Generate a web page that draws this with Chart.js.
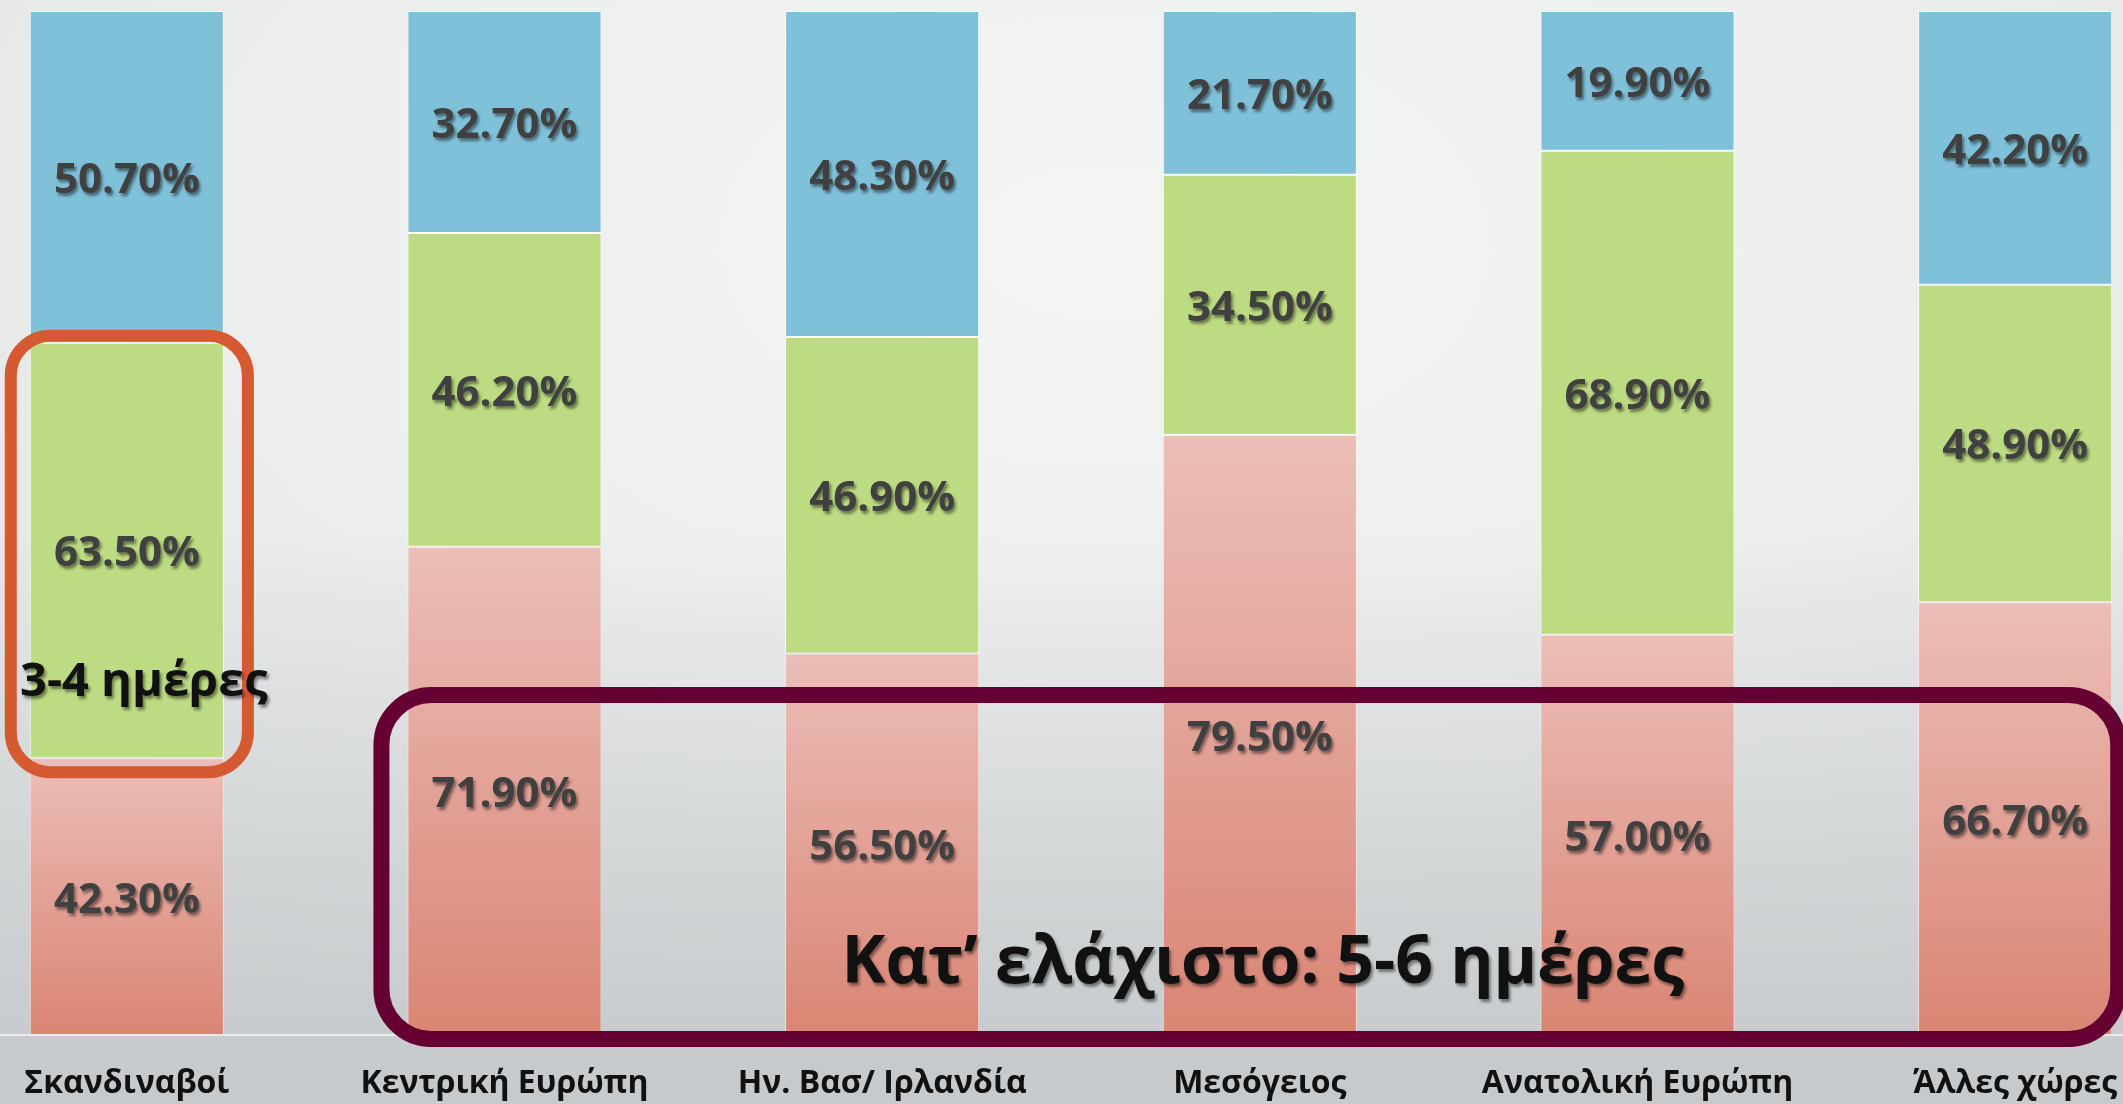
<!DOCTYPE html>
<html>
<head>
<meta charset="utf-8">
<script src="https://cdn.jsdelivr.net/npm/chart.js@4"></script>
<style>
  html, body { margin: 0; padding: 0; width: 2123px; height: 1104px; overflow: hidden; }
  body {
    position: relative;
    background:
      linear-gradient(180deg, rgba(198,202,204,0) 48%, rgba(198,202,204,1) 97%),
      radial-gradient(ellipse 75% 85% at 52% 22%, #f3f4f4 0%, #eeefef 45%, #e1e3e3 100%);
  }
  #wrap { position: absolute; left: -62px; top: 0; width: 2266px; height: 1104px; }
</style>
</head>
<body>
<div id="wrap"><canvas id="chart"></canvas></div>
<script>
// regions
const categories = ["Σκανδιναβοί", "Κεντρική Ευρώπη", "Ην. Βασ/ Ιρλανδία", "Μεσόγειος", "Ανατολική Ευρώπη", "Άλλες χώρες"]
// values as printed on the bars (%)
const minFiveSix = [42.3, 71.9, 56.5, 79.5, 57.0, 66.7]
const threeFour = [63.5, 46.2, 46.9, 34.5, 68.9, 48.9]
const oneTwo = [50.7, 32.7, 48.3, 21.7, 19.9, 42.2]
const seriesNames = ["5-6 ημέρες", "3-4 ημέρες", "1-2 ημέρες"]

const series = [minFiveSix, threeFour, oneTwo]
// 100% stacked: each bar is scaled to its own total
const totals = categories.map((c, i) => series.reduce((s, arr) => s + arr[i], 0))
const share = arr => arr.map((v, i) => v / totals[i] * 100)

const FONT = "'Open Sans', 'Noto Sans', sans-serif"

function redFill(context) {
    const chart = context.chart
    if (!chart.chartArea) return "#e2a096"
    const i = context.dataIndex
    const y = chart.scales.y
    const top = y.getPixelForValue(share(minFiveSix)[i])
    const bottom = y.getPixelForValue(0)
    const g = chart.ctx.createLinearGradient(0, top, 0, bottom)
    g.addColorStop(0, "#ebbeb8")
    g.addColorStop(1, "#da8574")
    return g
}

function roundBox(ctx, l, t, r, b, rad) {
    ctx.beginPath()
    ctx.roundRect(l, t, r - l, b - t, rad)
    ctx.stroke()
}

const overlay = {
    id: "overlay",
    afterDatasetsDraw(chart) {
        const ctx = chart.ctx
        const x = chart.scales.x
        const y = chart.scales.y
        ctx.save()

        // orange frame round the Scandinavian 3-4 days segment
        const g = chart.getDatasetMeta(1).data[0]
        ctx.lineWidth = 12
        ctx.strokeStyle = "#d65a31"
        roundBox(ctx, g.x - g.width / 2 - 19, g.y - 7, g.x + g.width / 2 + 24, g.base + 14, 40)

        // maroon frame round the lower part of the other bars
        const b2 = chart.getDatasetMeta(0).data[1]
        const b6 = chart.getDatasetMeta(0).data[5]
        ctx.lineWidth = 16
        ctx.strokeStyle = "#660033"
        roundBox(ctx, b2.x - b2.width / 2 - 26, y.getPixelForValue(33.2), b6.x + b6.width / 2 + 6, chart.chartArea.bottom + 4, 50)

        // value labels
        ctx.textAlign = "center"
        ctx.textBaseline = "middle"
        ctx.font = "bold 42px " + FONT
        ctx.shadowColor = "rgba(0,0,0,0.45)"
        ctx.shadowOffsetX = 2
        ctx.shadowOffsetY = 3
        ctx.shadowBlur = 3
        ctx.fillStyle = "#404040"
        series.forEach((arr, d) => {
            chart.getDatasetMeta(d).data.forEach((el, i) => {
                const p = el.getCenterPoint()
                ctx.fillText(arr[i].toFixed(2) + "%", p.x, p.y + 4)
            })
        })

        // annotation texts
        ctx.fillStyle = "#111111"
        ctx.font = "bold 47px " + FONT
        ctx.fillText("3-4 ημέρες", x.getPixelForValue(0) + 17, y.getPixelForValue(34.4))
        ctx.font = "bold 66px " + FONT
        ctx.fillText("Κατ’ ελάχιστο: 5-6 ημέρες", x.getPixelForValue(3) + 3, y.getPixelForValue(6.9))
        ctx.restore()
    }
}

const chartCtx = document.getElementById("chart")
const chart = new Chart(chartCtx, {
    type: "bar",
    data: {
        labels: categories,
        datasets: [
            { label: seriesNames[0], data: share(minFiveSix), backgroundColor: redFill, borderColor: "rgba(255,235,232,0.7)", borderWidth: 1, borderSkipped: false },
            { label: seriesNames[1], data: share(threeFour), backgroundColor: "#bddb82", borderColor: "rgba(255,255,255,0.85)", borderWidth: 1, borderSkipped: false },
            { label: seriesNames[2], data: share(oneTwo), backgroundColor: "#80c1da", borderColor: "rgba(255,255,255,0.85)", borderWidth: 1, borderSkipped: false },
        ],
    },
    options: {
        responsive: true,
        maintainAspectRatio: false,
        animation: false,
        devicePixelRatio: 1,
        layout: { padding: { top: 11, bottom: 0, left: 0, right: 0 } },
        datasets: { bar: { categoryPercentage: 1, barPercentage: 0.514 } },
        plugins: { legend: { display: false }, tooltip: { enabled: false }, title: { display: false } },
        scales: {
            x: {
                stacked: true,
                grid: { display: false, drawTicks: false },
                border: { display: true, color: "rgba(236,238,238,0.9)", width: 2 },
                ticks: { color: "#111111", padding: 30, maxRotation: 0, font: { family: FONT, size: 32, weight: "bold" } },
                afterFit(scale) { scale.height = 69 },
            },
            y: { stacked: true, display: false, min: 0, max: 100 },
        },
    },
    plugins: [overlay],
})
</script>
</body>
</html>
